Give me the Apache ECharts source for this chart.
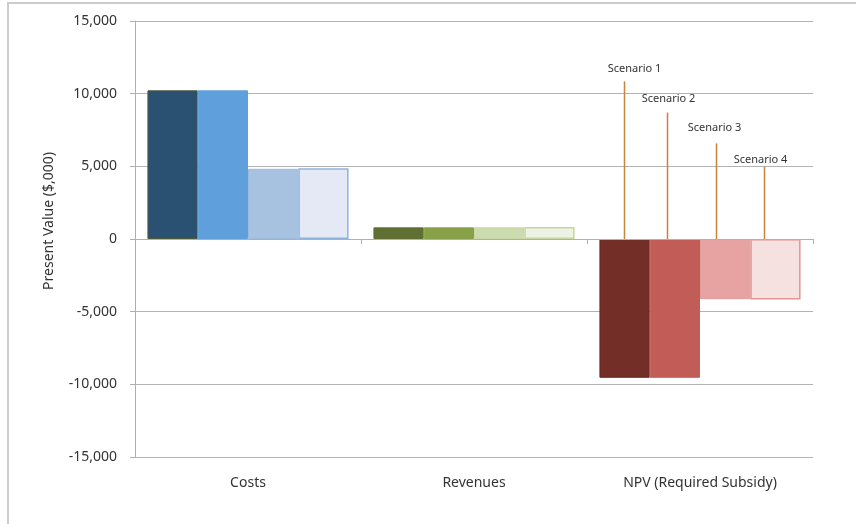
<!DOCTYPE html>
<html>
<head>
<meta charset="utf-8">
<script src="https://cdn.jsdelivr.net/npm/echarts@6/dist/echarts.min.js"></script>
<style>
  html, body { margin: 0; padding: 0; background: #ffffff; }
  #chart { width: 856px; height: 524px; }
</style>
</head>
<body>
<div id="chart"></div>
<script>
// Present value by component, one series per scenario ($,000)
const categories = ['Costs', 'Revenues', 'NPV (Required Subsidy)'];
const scenarioNames = ['Scenario 1', 'Scenario 2', 'Scenario 3', 'Scenario 4'];
const scenario1 = [10230, 800, -9550];
const scenario2 = [10230, 800, -9550];
const scenario3 = [4830, 800, -4140];
const scenario4 = [4870, 830, -4160];
const yTicks = [-15000, -10000, -5000, 0, 5000, 10000, 15000];

// Fill colours per category (rows) and scenario (columns)
const palette = [
  ['#2a5072', '#5f9fdc', '#a6c2e0', '#e4e9f5'],
  ['#5f7032', '#88a047', '#cddcae', '#eef2e4'],
  ['#722e27', '#c25c57', '#e6a3a2', '#f5e1df']
];
const edges = [
  ['#4d5a3c', '#5f9fdc', '#9dbbdd', '#8eb3dd'],
  ['#5f7032', '#88a047', '#c6d6a4', '#c6d69c'],
  ['#6a2a24', '#c25c57', '#e29c9b', '#e39494']
];

// Callout leaders above the NPV bars: where each line stops (axis units),
// where it sits across the category band, and the label offset in pixels
const calloutTop = [10850, 8700, 6580, 4960];
const calloutBand = [0.165, 0.355, 0.571, 0.785];
const calloutDx = [10, 1, -2, -4];
const calloutDy = [-12, -14, -16, -7];

const seriesValues = [scenario1, scenario2, scenario3, scenario4];
const font = '"Noto Sans", "Open Sans", sans-serif';

const barSeries = seriesValues.map((vals, s) => ({
  name: scenarioNames[s],
  type: 'bar',
  xAxisIndex: 0,
  barGap: '0%',
  barCategoryGap: '11%',
  data: vals.map((v, c) => ({
    value: v,
    itemStyle: {
      color: palette[c][s],
      borderColor: edges[c][s],
      borderWidth: s === 3 ? 1.5 : 1
    }
  }))
}));

const calloutSeries = {
  type: 'custom',
  xAxisIndex: 0,
  z: 5,
  silent: true,
  data: [[2, 0]],
  renderItem: function (params, api) {
    const base = api.coord([api.value(0), 0]);
    const band = api.size([1, 0])[0];
    const left = base[0] - band / 2;
    const children = [];
    scenarioNames.forEach((name, i) => {
      const x = Math.round(left + band * calloutBand[i]) + 0.5;
      const top = api.coord([api.value(0), calloutTop[i]])[1];
      children.push({
        type: 'line',
        shape: { x1: x, y1: base[1], x2: x, y2: top },
        style: { stroke: '#c8833f', lineWidth: 1.5 }
      });
      children.push({
        type: 'text',
        x: x + calloutDx[i],
        y: top + calloutDy[i],
        style: {
          text: name,
          fill: '#333333',
          font: '11px ' + font,
          align: 'center',
          verticalAlign: 'middle'
        }
      });
    });
    return { type: 'group', children: children };
  }
};

const chart = echarts.init(document.getElementById('chart'), null, { renderer: 'canvas' });
chart.setOption({
  backgroundColor: '#ffffff',
  animation: false,
  grid: { left: 135, right: 43, top: 21, bottom: 67, containLabel: false },
  xAxis: [
    {
      type: 'category',
      data: categories,
      boundaryGap: true,
      axisLine: { onZero: true, lineStyle: { color: '#b0b0b0', width: 1 } },
      axisTick: { show: true, alignWithLabel: false, length: 5, lineStyle: { color: '#b0b0b0' } },
      axisLabel: { show: false },
      splitLine: { show: false },
      z: 3
    },
    {
      type: 'category',
      data: categories,
      position: 'bottom',
      axisLine: { show: false, onZero: false },
      axisTick: { show: false },
      axisLabel: { show: true, margin: 19, color: '#333333', fontSize: 14, fontFamily: font },
      splitLine: { show: false }
    }
  ],
  yAxis: {
    type: 'value',
    min: yTicks[0],
    max: yTicks[yTicks.length - 1],
    interval: 5000,
    axisLine: { show: true, lineStyle: { color: '#b0b0b0', width: 1 } },
    axisTick: { show: true, length: 5, lineStyle: { color: '#b0b0b0' } },
    axisLabel: {
      margin: 18,
      color: '#333333',
      fontSize: 14,
      fontFamily: font,
      formatter: v => v.toLocaleString('en-US')
    },
    splitLine: { show: true, lineStyle: { color: '#b3b3b3', width: 1 } }
  },
  graphic: [
    {
      type: 'polyline',
      silent: true,
      shape: { points: [[8, 530], [8, 3], [860, 3]] },
      style: { stroke: '#cccccc', lineWidth: 2, fill: null }
    },
    {
      type: 'text',
      silent: true,
      x: 49,
      y: 221,
      rotation: Math.PI / 2,
      style: {
        text: 'Present Value ($,000)',
        fill: '#333333',
        font: '14px ' + font,
        align: 'center',
        verticalAlign: 'middle'
      }
    }
  ],
  series: barSeries.concat([calloutSeries])
});
</script>
</body>
</html>
